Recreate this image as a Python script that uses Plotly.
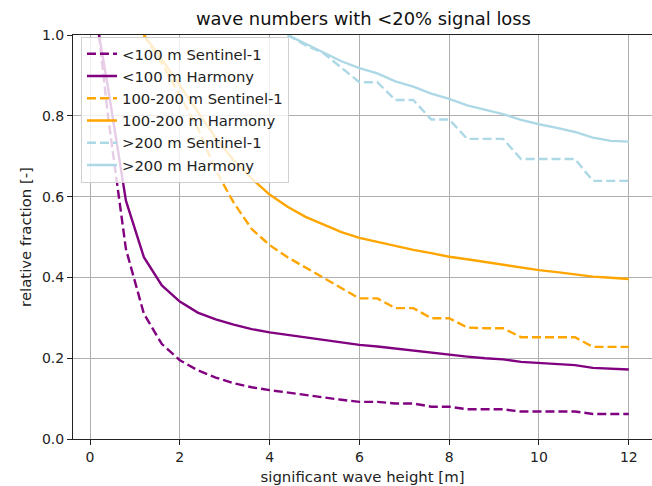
import plotly.graph_objects as go

# significant wave height [m]
hs = [0.2] + [round(0.4 * k, 1) for k in range(1, 31)]

# None = curve sits at 1.0 hidden behind the top frame (not drawn in the reference)
s1_lt100 = [1.0, 0.80, 0.47, 0.31, 0.235, 0.195, 0.17, 0.152, 0.138, 0.128, 0.121,
            0.115, 0.108, 0.102, 0.097, 0.092, 0.092, 0.088, 0.088, 0.080, 0.080,
            0.0735, 0.0735, 0.0735, 0.068, 0.068, 0.068, 0.068, 0.062, 0.062, 0.062]
h_lt100 = [1.0, 0.87, 0.59, 0.45, 0.38, 0.34, 0.313, 0.296, 0.283, 0.272, 0.264,
           0.258, 0.252, 0.245, 0.239, 0.233, 0.229, 0.224, 0.219, 0.214, 0.208,
           0.204, 0.200, 0.197, 0.191, 0.188, 0.186, 0.183, 0.176, 0.174, 0.172]
s1_100_200 = [None, None, None, 1.0, 0.93, 0.85, 0.77, 0.665, 0.585, 0.52, 0.48,
              0.45, 0.425, 0.40, 0.375, 0.348, 0.348, 0.324, 0.324, 0.299, 0.299,
              0.276, 0.274, 0.274, 0.252, 0.252, 0.252, 0.252, 0.228, 0.228, 0.228]
h_100_200 = [None, None, None, 1.0, 0.94, 0.875, 0.81, 0.745, 0.69, 0.645, 0.605,
             0.575, 0.55, 0.53, 0.512, 0.498, 0.488, 0.477, 0.468, 0.46, 0.451,
             0.445, 0.438, 0.431, 0.425, 0.418, 0.413, 0.407, 0.402, 0.399, 0.396]
s1_gt200 = [None, None, None, None, None, None, None, None, None, None, None,
            1.0, 0.975, 0.955, 0.92, 0.883, 0.883, 0.839, 0.839, 0.791, 0.791,
            0.743, 0.743, 0.743, 0.693, 0.693, 0.693, 0.693, 0.639, 0.639, 0.639]
h_gt200 = [None, None, None, None, None, None, None, None, None, None, None,
           1.0, 0.978, 0.958, 0.935, 0.918, 0.905, 0.885, 0.872, 0.855, 0.842,
           0.826, 0.815, 0.804, 0.79, 0.779, 0.77, 0.76, 0.746, 0.738, 0.736]

series = [
    ("<100 m Sentinel-1", s1_lt100, "purple", "9px,4px"),
    ("<100 m Harmony", h_lt100, "purple", "solid"),
    ("100-200 m Sentinel-1", s1_100_200, "orange", "9px,4px"),
    ("100-200 m Harmony", h_100_200, "orange", "solid"),
    (">200 m Sentinel-1", s1_gt200, "lightblue", "9px,4px"),
    (">200 m Harmony", h_gt200, "lightblue", "solid"),
]

fig = go.Figure()
for name, vals, col, dash in series:
    fig.add_trace(go.Scatter(x=hs, y=vals, mode="lines", name=name,
                             line=dict(color=col, width=2.4, dash=dash)))

font = "DejaVu Sans"
fig.update_layout(
    width=652, height=486,
    margin=dict(l=73, r=0, t=35, b=47),
    paper_bgcolor="white", plot_bgcolor="white",
    font=dict(family=font, size=14, color="#222"),
    title=dict(text="wave numbers with <20% signal loss", x=0.5017, xref="paper",
               y=1 - 19 / 486, yref="container", xanchor="center", yanchor="middle",
               font=dict(size=17.9, family=font, color="#111")),
    legend=dict(x=0.0138, y=0.996, xanchor="left", yanchor="top",
                bgcolor="rgba(255,255,255,0.8)", bordercolor="#d0d0d0", borderwidth=1,
                font=dict(size=14.8, family=font, color="#222")),
    showlegend=True,
)
fig.update_xaxes(range=[-0.379, 12.517], tickvals=[0, 2, 4, 6, 8, 10, 12],
                 showgrid=True, gridcolor="#b0b0b0", gridwidth=1,
                 showline=True, linecolor="#222", linewidth=1, mirror=True,
                 ticks="outside", ticklen=5, tickcolor="#222", zeroline=False,
                 tickfont=dict(size=14),
                 title=dict(text="significant wave height [m]", standoff=8,
                            font=dict(size=14.9, family=font)))
fig.update_yaxes(range=[0, 1], tickvals=[0, 0.2, 0.4, 0.6, 0.8, 1.0], tickformat=".1f",
                 showgrid=True, gridcolor="#b0b0b0", gridwidth=1,
                 showline=True, linecolor="#222", linewidth=1, mirror=False,
                 ticks="outside", ticklen=5, tickcolor="#222", zeroline=False,
                 tickfont=dict(size=14),
                 title=dict(text="relative fraction [-]", standoff=6,
                            font=dict(size=14.9, family=font)))

fig.write_html("out.html", config={"displayModeBar": False},
               post_script="document.body.style.margin='0';")
